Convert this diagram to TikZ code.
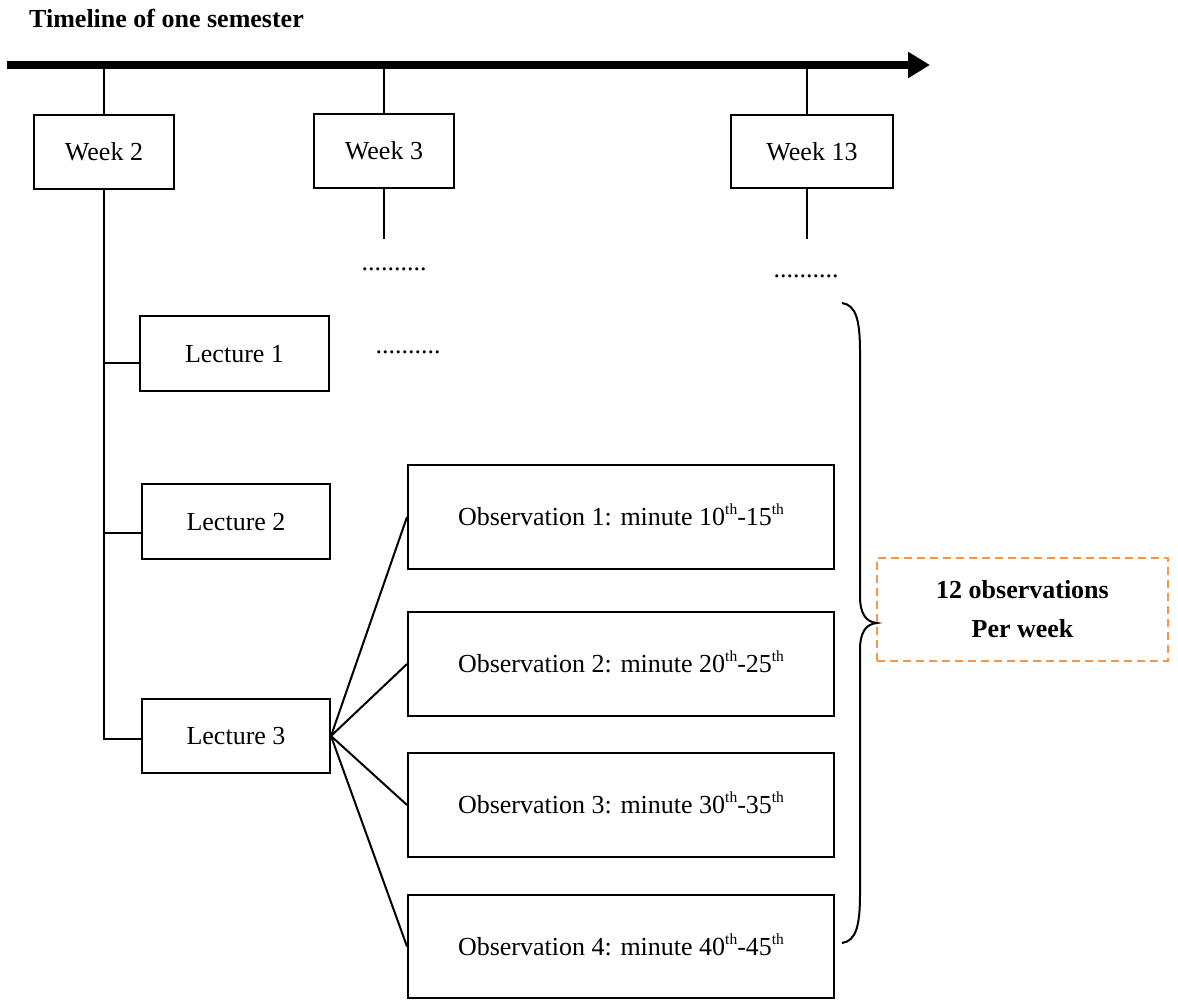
\documentclass[tikz,border=0pt]{standalone}
\usepackage{fontspec}
\setmainfont{Liberation Serif}
\usetikzlibrary{arrows.meta}
\definecolor{noteorange}{HTML}{F79646}
% small raised ordinal suffix
\newcommand\ordsup[1]{\raisebox{11pt}{\fontsize{15.5}{15.5}\selectfont #1}}

\begin{document}
\begin{tikzpicture}[x=1pt,y=-1pt,
  every node/.style={font=\fontsize{26}{39}\selectfont},
  box/.style={draw, line width=2pt, inner sep=0pt, text height=17.7pt, text depth=0pt},
  weekbox/.style={box, minimum height=74pt},
  lecbox/.style={box, minimum width=189pt, minimum height=75pt},
  obsbox/.style={box, minimum width=426pt, minimum height=104pt},
  notebox/.style={draw=noteorange, line width=2.5pt, dash pattern=on 8pt off 5pt,
    minimum width=291pt, minimum height=103pt, align=center,
    font=\fontsize{26}{39}\selectfont\bfseries},
  dots/.style={anchor=base, inner sep=0pt},
  link/.style={line width=2pt}]
\useasboundingbox (0,0) rectangle (1178,1000);

% title and timeline
\node[anchor=base west, inner sep=0pt, font=\fontsize{26}{39}\selectfont\bfseries]
  (title) at (29,28) {Timeline of one semester};
\coordinate (tstart) at (7,65);
\coordinate (tend) at (930,65);
\draw[line width=7.5pt, -{Triangle[length=22pt,width=25pt]}] (tstart) -- (tend);

% weeks
\node[weekbox, minimum width=140pt] (w2) at (104,152) {Week 2};
\node[weekbox, minimum width=140pt] (w3) at (384,151) {Week 3};
\node[weekbox, minimum width=162pt, minimum height=73pt] (w13) at (812,151.5) {Week 13};

\coordinate (t2) at (104,65);
\coordinate (t3) at (384,65);
\coordinate (t13) at (807,65);
\draw[link] (t2) -- (w2.north);
\draw[link] (t3) -- (w3.north);
\draw[link] (t13) -- (t13 |- w13.north);

\coordinate (e3) at (384,239);
\coordinate (e13) at (807,239);
\draw[link] (w3.south) -- (e3);
\draw[link] (e13 |- w13.south) -- (e13);

\node[dots] (d3) at (394,271) {..........};
\node[dots] (d13) at (806,278) {..........};

% lectures of week 2
\node[lecbox] (l1) at (234.5,353.5) {Lecture 1};
\node[lecbox, minimum width=188pt] (l2) at (236,521.5) {Lecture 2};
\node[lecbox, minimum width=188pt, minimum height=74pt] (l3) at (236,736) {Lecture 3};
\node[dots] (dl) at (408,353) {..........};

\coordinate (spine) at (104,740);
\draw[link] (w2.south) -- (spine);
\coordinate (b1) at (104,363);
\coordinate (b2) at (104,533);
\coordinate (b3) at (104,739);
\draw[link] (b1) -- (b1 -| l1.west);
\draw[link] (b2) -- (b2 -| l2.west);
\draw[link] (b3) -- (b3 -| l3.west);

% observations of lecture 3
\node[obsbox] (o1) at (621,517) {Observation 1: minute 10\ordsup{th}-15\ordsup{th}};
\node[obsbox] (o2) at (621,664) {Observation 2: minute 20\ordsup{th}-25\ordsup{th}};
\node[obsbox] (o3) at (621,805) {Observation 3: minute 30\ordsup{th}-35\ordsup{th}};
\node[obsbox, minimum height=103pt] (o4) at (621,946.5) {Observation 4: minute 40\ordsup{th}-45\ordsup{th}};

\draw[link] (l3.east) -- (o1.west);
\draw[link] (l3.east) -- (o2.west);
\draw[link] (l3.east) -- (o3.west);
\draw[link] (l3.east) -- (o4.west);

% weekly total: curly brace and note
\draw[link] (842,303) .. controls (856,305) and (860,320) .. (860,352)
  -- (860,596) .. controls (860,614) and (866,622) .. (877,623)
  .. controls (866,624) and (860,632) .. (860,650)
  -- (860,894) .. controls (860,926) and (856,941) .. (842,943);
\node[notebox] (note) at (1022.5,609.5) {12 observations\\Per week};
\end{tikzpicture}
\end{document}
